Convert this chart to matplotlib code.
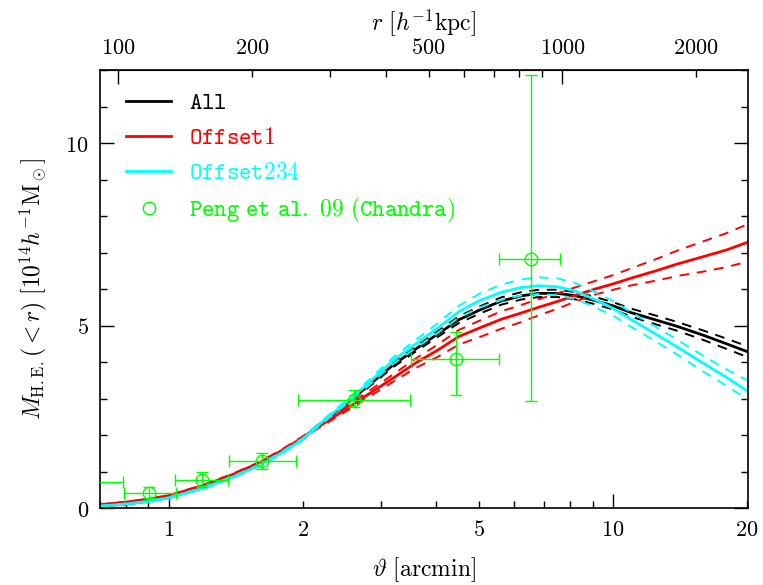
import matplotlib
matplotlib.use("Agg")
import matplotlib.pyplot as plt
from matplotlib.lines import Line2D
from matplotlib.ticker import FixedLocator, FuncFormatter

plt.rcParams['mathtext.fontset'] = 'cm'
plt.rcParams['font.family'] = ['DejaVu Serif']

# angular radius [arcmin]
theta = [0.7, 0.8, 0.9, 1.0, 1.2, 1.4, 1.6, 1.8, 2.0, 2.2, 2.5, 2.8, 3.2, 3.6, 4.0,
         4.5, 5.0, 5.6, 6.2, 6.8, 7.5, 8.2, 9.0, 10, 11, 12.5, 14, 16, 18, 20.5]

# M_HE(<r) [1e14 h^-1 Msun]
m_all = [0.05, 0.11, 0.19, 0.29, 0.56, 0.87, 1.19, 1.54, 1.90, 2.32, 2.84, 3.33, 3.92, 4.36, 4.74,
         5.16, 5.42, 5.67, 5.81, 5.88, 5.88, 5.82, 5.70, 5.54, 5.35, 5.15, 4.97, 4.73, 4.50, 4.24]
m_all_hi = [0.06, 0.12, 0.20, 0.30, 0.58, 0.89, 1.21, 1.56, 1.93, 2.35, 2.88, 3.38, 3.98, 4.43, 4.82,
            5.25, 5.52, 5.77, 5.91, 5.98, 5.98, 5.92, 5.80, 5.64, 5.46, 5.27, 5.09, 4.86, 4.64, 4.39]
m_all_lo = [0.04, 0.10, 0.18, 0.28, 0.54, 0.85, 1.17, 1.52, 1.87, 2.29, 2.80, 3.28, 3.86, 4.29, 4.66,
            5.07, 5.32, 5.57, 5.71, 5.78, 5.78, 5.72, 5.60, 5.44, 5.24, 5.03, 4.85, 4.60, 4.36, 4.09]

m_off1 = [0.09, 0.16, 0.24, 0.34, 0.62, 0.93, 1.24, 1.58, 1.93, 2.27, 2.70, 3.10, 3.56, 3.98, 4.30,
          4.70, 4.93, 5.17, 5.34, 5.50, 5.66, 5.82, 5.98, 6.14, 6.30, 6.50, 6.69, 6.89, 7.07, 7.32]
m_off1_hi = [0.10, 0.17, 0.25, 0.35, 0.64, 0.95, 1.26, 1.61, 1.96, 2.31, 2.76, 3.18, 3.66, 4.10, 4.45,
             4.88, 5.13, 5.39, 5.56, 5.72, 5.88, 6.04, 6.20, 6.38, 6.57, 6.82, 7.06, 7.31, 7.53, 7.82]
m_off1_lo = [0.08, 0.15, 0.23, 0.33, 0.60, 0.91, 1.22, 1.55, 1.90, 2.23, 2.64, 3.02, 3.46, 3.84, 4.12,
             4.48, 4.68, 4.91, 5.09, 5.28, 5.46, 5.65, 5.83, 5.98, 6.10, 6.23, 6.36, 6.48, 6.60, 6.78]

m_off234 = [0.05, 0.11, 0.18, 0.28, 0.55, 0.86, 1.17, 1.52, 1.88, 2.33, 2.88, 3.40, 4.04, 4.50, 4.90,
            5.38, 5.68, 5.91, 6.04, 6.09, 6.06, 5.95, 5.74, 5.47, 5.16, 4.76, 4.40, 3.96, 3.58, 3.13]
m_off234_hi = [0.06, 0.12, 0.19, 0.29, 0.57, 0.88, 1.19, 1.55, 1.91, 2.37, 2.93, 3.47, 4.13, 4.61, 5.03,
               5.54, 5.87, 6.12, 6.26, 6.32, 6.29, 6.17, 5.95, 5.67, 5.36, 4.96, 4.60, 4.16, 3.80, 3.43]
m_off234_lo = [0.04, 0.10, 0.17, 0.27, 0.53, 0.84, 1.15, 1.49, 1.85, 2.29, 2.83, 3.33, 3.95, 4.39, 4.77,
               5.22, 5.49, 5.70, 5.82, 5.86, 5.83, 5.73, 5.53, 5.27, 4.96, 4.56, 4.19, 3.73, 3.35, 2.90]

# Peng et al. 2009 (Chandra)
peng_theta = [0.66, 0.903, 1.190, 1.624, 2.605, 4.44, 6.52]
peng_theta_lo = [0.56, 0.792, 1.032, 1.366, 1.956, 3.51, 5.54]
peng_theta_hi = [0.789, 1.037, 1.359, 1.936, 3.50, 5.54, 7.61]
peng_m = [0.70, 0.42, 0.765, 1.30, 2.97, 4.07, 6.82]
peng_m_lo = [0.55, 0.27, 0.57, 1.08, 2.77, 3.11, 2.93]
peng_m_hi = [0.85, 0.58, 0.99, 1.52, 3.22, 4.81, 11.86]

KPC_PER_ARCMIN = 130.0
GREEN = '#00ff00'
CYAN = '#00ffff'
RED = '#ff0000'

fig = plt.figure(figsize=(7.63, 5.85), dpi=100)
ax = fig.add_axes([0.131, 0.1316, 0.849, 0.7487])
ax.set_xscale('log')

for mid, hi, lo, col in [(m_all, m_all_hi, m_all_lo, 'k'),
                         (m_off1, m_off1_hi, m_off1_lo, RED),
                         (m_off234, m_off234_hi, m_off234_lo, CYAN)]:
    ax.plot(theta, mid, color=col, lw=2.0, solid_capstyle='butt')
    ax.plot(theta, hi, color=col, lw=1.4, ls=(0, (5, 4)))
    ax.plot(theta, lo, color=col, lw=1.4, ls=(0, (5, 4)))

xerr = [[m - l for m, l in zip(peng_theta, peng_theta_lo)],
        [h - m for m, h in zip(peng_theta, peng_theta_hi)]]
yerr = [[m - l for m, l in zip(peng_m, peng_m_lo)],
        [h - m for m, h in zip(peng_m, peng_m_hi)]]
ax.errorbar(peng_theta, peng_m, xerr=xerr, yerr=yerr, fmt='o', ms=9, mfc='none',
            mec=GREEN, mew=1.0, ecolor=GREEN, elinewidth=1.0, capsize=4, capthick=1.0,
            zorder=5)

ax.set_xlim(0.70, 20.1)
ax.set_ylim(0, 12)

# bottom axis ticks
ax.xaxis.set_major_locator(FixedLocator([1, 10]))
ax.xaxis.set_minor_locator(FixedLocator([0.7, 0.8, 0.9, 2, 3, 4, 5, 6, 7, 8, 9, 20]))
lab = lambda v, p: r'$%g$' % v if v in (1, 2, 5, 10, 20) else ''
ax.xaxis.set_major_formatter(FuncFormatter(lab))
ax.xaxis.set_minor_formatter(FuncFormatter(lab))
ax.yaxis.set_major_locator(FixedLocator([0, 5, 10]))
ax.yaxis.set_minor_locator(FixedLocator(range(0, 13)))
ax.yaxis.set_major_formatter(FuncFormatter(lambda v, p: r'$%d$' % v))
ax.tick_params(which='both', direction='in', top=False, right=True, labelsize=16, width=1.0)
ax.tick_params(which='major', length=10, pad=8)
ax.tick_params(which='minor', length=5, pad=8)

# top axis: physical radius
sec = ax.secondary_xaxis('top', functions=(lambda t: t * KPC_PER_ARCMIN,
                                           lambda r: r / KPC_PER_ARCMIN))
sec.xaxis.set_major_locator(FixedLocator([100, 1000]))
sec.xaxis.set_minor_locator(FixedLocator([200, 300, 400, 500, 600, 700, 800, 900, 2000]))
lab2 = lambda v, p: r'$%d$' % v if v in (100, 200, 500, 1000, 2000) else ''
sec.xaxis.set_major_formatter(FuncFormatter(lab2))
sec.xaxis.set_minor_formatter(FuncFormatter(lab2))
sec.tick_params(which='both', direction='in', labelsize=16, width=1.0, pad=8)
sec.tick_params(which='major', length=10)
sec.tick_params(which='minor', length=5)
sec.set_xlabel(r'$r\ [h^{-1}\mathrm{kpc}]$', fontsize=17, labelpad=5)

for s in ax.spines.values():
    s.set_linewidth(1.2)

ax.set_xlabel(r'$\vartheta\ [\mathrm{arcmin}]$', fontsize=17, labelpad=10)
ax.set_ylabel(r'$M_\mathrm{H.E.}(<r)\ [10^{14}h^{-1}\mathrm{M}_\odot]$', fontsize=17, labelpad=12)

handles = [Line2D([], [], color='k', lw=2),
           Line2D([], [], color=RED, lw=2),
           Line2D([], [], color=CYAN, lw=2),
           Line2D([], [], ls='none', marker='o', ms=9, mfc='none', mec=GREEN, mew=1.0)]
labels = [r'$\mathtt{All}$', r'$\mathtt{Offset1}$', r'$\mathtt{Offset234}$',
          r'$\mathtt{Peng\ et\ al.\ 09\ (Chandra)}$']
ax.legend(handles, labels, loc='upper left', bbox_to_anchor=(0.008, 1.0), frameon=False,
          fontsize=17, handlelength=1.9, handletextpad=0.75, labelspacing=0.5,
          labelcolor=['k', RED, CYAN, GREEN])

fig.savefig('out.png', dpi=100)
